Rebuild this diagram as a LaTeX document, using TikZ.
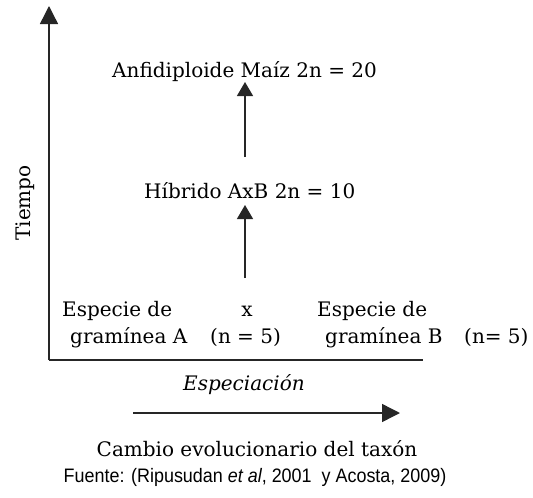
\documentclass[tikz,border=0pt]{standalone}
\usepackage{fontspec}
\setmainfont{DejaVu Serif}
\newfontfamily\fuentefont{Liberation Sans}
\usetikzlibrary{arrows.meta}
\begin{document}
\begin{tikzpicture}[x=1pt,y=-1pt,
  lbl/.style={inner sep=0pt, anchor=base west, font=\fontsize{20}{22}\selectfont},
  ln/.style={line width=1.4pt, draw=black!85},
  arr/.style={ln, -{Triangle[width=16pt,length=14pt]}},
  bigarr/.style={ln, -{Triangle[width=18pt,length=18pt]}},
]
\useasboundingbox (0,0) rectangle (533,498);
% axes
\coordinate (origin) at (49,360);
\coordinate (axtop) at (49,6);
\coordinate (axright) at (423,360);
\draw[ln] (origin) -- (axright);
\draw[bigarr] (origin) -- (axtop);
\node[lbl, anchor=center, rotate=90] (tiempo) at (25,203) {Tiempo};
% texts
\node[lbl] (anfi) at (112,77) {Anfidiploide Maíz 2n = 20};
\node[lbl] (hib) at (144,198) {Híbrido AxB 2n = 10};
\node[lbl] (espA) at (62,316) {Especie de};
\node[lbl, anchor=base] (cross) at (247,316) {x};
\node[lbl] (espB) at (317,316) {Especie de};
\node[lbl] (graA) at (70,343) {gramínea A};
\node[lbl] (nA) at (210,343) {(n = 5)};
\node[lbl] (graB) at (325,343) {gramínea B};
\node[lbl] (nB) at (464,343) {(n= 5)};
% vertical arrows
\coordinate (a1s) at (245,157);
\coordinate (a1e) at (245,82);
\coordinate (a2s) at (245,278);
\coordinate (a2e) at (245,205);
\draw[arr] (a1s) -- (a1e);
\draw[arr] (a2s) -- (a2e);
% bottom
\node[lbl, anchor=base, font=\fontsize{20}{22}\selectfont\itshape] (espec) at (244,390) {Especiación};
\coordinate (hs) at (133,413);
\coordinate (he) at (400,413);
\draw[bigarr] (hs) -- (he);
\node[lbl, anchor=base] (cambio) at (257,456) {Cambio evolucionario del taxón};
\node[inner sep=0pt, anchor=base, font=\fuentefont\fontsize{19.5}{21}\selectfont] (fuente) at (255,482) {\scalebox{0.92}[1]{Fuente: (Ripusudan \textit{et al}, 2001\ \ y Acosta, 2009)}};
\end{tikzpicture}
\end{document}
